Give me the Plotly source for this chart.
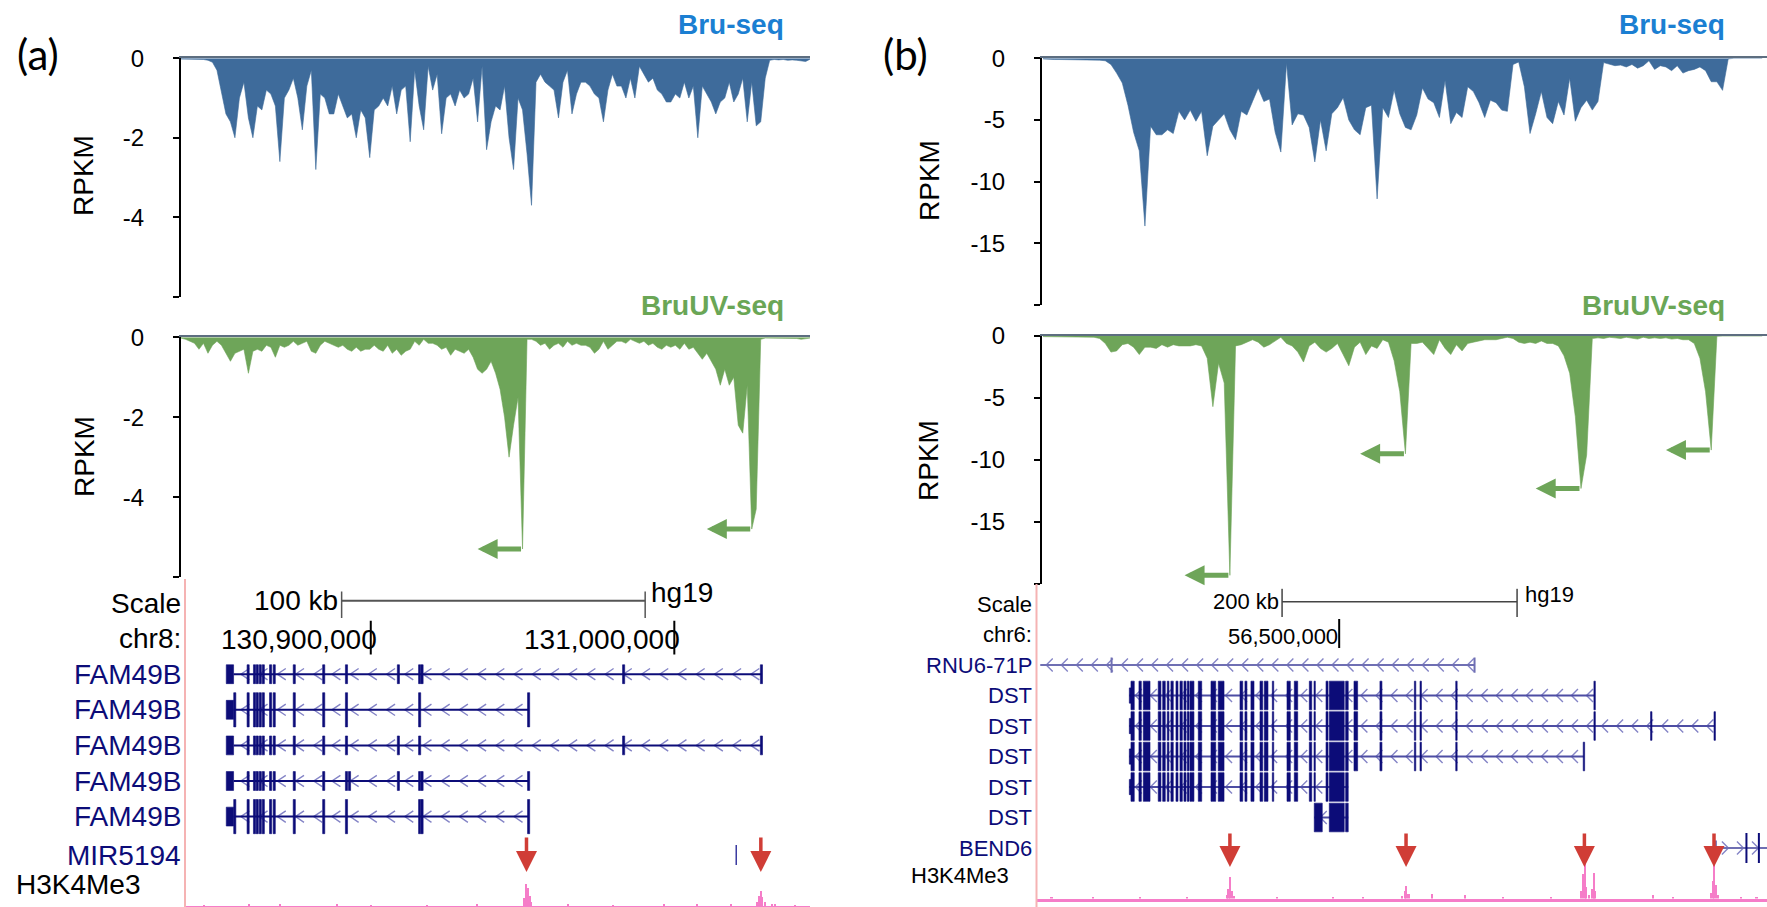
import numpy as np
import plotly.graph_objects as go

W, H = 1767, 907
FONT = "Liberation Sans, Arial, Helvetica, sans-serif"

# ---------------- signal tracks: RPKM (minus strand), evenly spaced bins ----------------
BIN_A = 1.5   # kb per bin, panel (a)
bru_a = [-0.02, -0.02, -0.02, -0.03, -0.02, -0.03, -0.05, -0.1, -0.3, -0.9,
         -1.4, -1.6, -2.0, -1.0, -0.6, -1.5, -2.0, -1.2, -1.3, -0.8,
         -0.9, -1.2, -2.6, -1.0, -0.8, -0.5, -1.0, -1.8, -0.7, -0.3,
         -2.8, -0.9, -1.0, -1.4, -1.4, -0.9, -1.2, -1.5, -1.4, -2.0,
         -1.3, -1.5, -2.5, -1.3, -1.2, -1.0, -1.2, -0.7, -1.4, -0.8,
         -0.7, -2.1, -0.3, -1.2, -1.8, -0.2, -0.8, -0.4, -1.9, -1.0,
         -0.9, -1.2, -0.8, -1.0, -0.9, -0.5, -1.6, -0.2, -2.3, -1.6,
         -1.2, -1.3, -0.7, -2.0, -2.8, -1.0, -1.3, -2.4, -3.7, -0.6,
         -0.4, -0.6, -0.7, -0.8, -1.5, -0.6, -0.3, -1.4, -0.9, -0.6,
         -0.6, -0.7, -0.9, -1.0, -1.6, -0.8, -0.4, -0.7, -0.7, -1.0,
         -0.5, -1.0, -0.2, -0.4, -0.6, -0.5, -0.8, -0.9, -1.1, -1.1,
         -0.9, -1.0, -0.6, -1.0, -0.7, -2.0, -0.7, -0.9, -1.1, -1.4,
         -1.1, -1.0, -0.6, -1.1, -0.9, -0.5, -1.6, -0.6, -1.7, -1.6,
         -0.5, -0.05, -0.03, -0.04, -0.03, -0.05, -0.04, -0.05, -0.06, -0.08, -0.02]
bruuv_a = [-0.02, -0.05, -0.1, -0.15, -0.3, -0.15, -0.4, -0.2, -0.1, -0.2,
           -0.4, -0.6, -0.4, -0.35, -0.3, -0.9, -0.35, -0.3, -0.35, -0.2,
           -0.25, -0.5, -0.2, -0.25, -0.2, -0.1, -0.2, -0.15, -0.1, -0.35,
           -0.4, -0.2, -0.1, -0.15, -0.2, -0.25, -0.2, -0.3, -0.35, -0.25,
           -0.35, -0.3, -0.3, -0.2, -0.3, -0.35, -0.2, -0.4, -0.3, -0.45,
           -0.35, -0.3, -0.1, -0.2, -0.05, -0.15, -0.15, -0.2, -0.3, -0.25,
           -0.45, -0.3, -0.35, -0.4, -0.3, -0.5, -0.8, -0.9, -0.8, -0.6,
           -0.9, -1.3, -2.0, -3.0, -2.2, -1.5, -5.3, -0.05, -0.05, -0.1,
           -0.2, -0.15, -0.3, -0.2, -0.15, -0.25, -0.1, -0.2, -0.15, -0.2,
           -0.2, -0.25, -0.4, -0.3, -0.1, -0.3, -0.2, -0.1, -0.1, -0.15,
           -0.05, -0.1, -0.15, -0.1, -0.2, -0.15, -0.25, -0.3, -0.2, -0.25,
           -0.2, -0.3, -0.15, -0.3, -0.25, -0.4, -0.55, -0.4, -0.6, -0.8,
           -1.2, -0.8, -1.2, -1.0, -2.2, -2.4, -1.2, -4.8, -4.3, -0.05,
           -0.02, -0.02, -0.02, -0.02, -0.02, -0.02, -0.02, -0.03, -0.05, -0.04, -0.02]

BIN_B = 5.0   # kb per bin, panel (b)
bru_b = [-0.05, -0.1, -0.1, -0.1, -0.1, -0.1, -0.12, -0.12, -0.12, -0.12,
         -0.15, -0.2, -0.5, -1.2, -2.0, -3.8, -6.0, -7.5, -13.6, -5.5,
         -6.2, -6.2, -5.8, -6.1, -4.3, -5.0, -4.2, -5.1, -4.3, -7.9,
         -5.5, -5.0, -4.5, -5.8, -6.6, -4.3, -4.6, -3.5, -2.4, -3.5,
         -3.3, -6.0, -7.6, -0.4, -5.4, -4.5, -4.6, -5.6, -8.4, -5.0,
         -7.5, -4.5, -4.0, -3.2, -5.0, -5.8, -6.2, -4.0, -3.8, -11.4,
         -4.0, -4.8, -2.6, -4.5, -5.6, -5.8, -4.6, -2.4, -3.3, -3.6,
         -4.8, -1.8, -5.3, -4.4, -4.8, -2.3, -2.7, -3.6, -4.8, -3.4,
         -3.6, -4.2, -4.3, -0.5, -0.3, -2.3, -6.1, -4.5, -2.7, -4.8,
         -5.3, -3.5, -4.6, -1.6, -5.1, -4.0, -3.4, -4.2, -3.5, -0.35,
         -0.5, -0.6, -0.55, -0.7, -0.5, -0.8, -0.6, -0.2, -0.9, -0.6,
         -0.7, -1.0, -0.6, -1.2, -1.0, -0.9, -0.7, -1.0, -1.9, -1.9,
         -2.6, -0.05, 0, 0, 0, 0, 0, 0]
bruuv_b = [-0.05, -0.05, -0.05, -0.05, -0.05, -0.05, -0.05, -0.05, -0.05, -0.1,
           -0.2, -0.6, -1.3, -1.2, -0.7, -0.6, -0.9, -1.5, -0.9, -0.9,
           -1.0, -0.7, -0.9, -0.7, -0.8, -0.8, -0.8, -0.7, -0.8, -1.8,
           -5.7, -2.2, -3.8, -19.3, -0.8, -0.7, -0.5, -0.3, -0.5, -0.9,
           -0.7, -0.4, -0.1, -0.6, -0.8, -1.3, -2.1, -0.8, -0.5, -1.0,
           -1.3, -1.0, -0.6, -1.5, -2.4, -0.9, -0.5, -1.5, -0.8, -1.0,
           -0.3, -0.5, -2.0, -4.5, -9.5, -0.6, -0.6, -0.5, -1.0, -1.5,
           -0.3, -1.0, -1.5, -0.7, -1.2, -0.6, -0.5, -0.4, -0.3, -0.3,
           -0.3, -0.2, -0.1, -0.2, -0.5, -0.6, -0.5, -0.6, -0.4, -0.6,
           -0.6, -0.8, -1.6, -3.0, -6.5, -12.3, -9.6, -0.2, -0.15, -0.2,
           -0.1, -0.15, -0.2, -0.1, -0.2, -0.25, -0.1, -0.2, -0.15, -0.2,
           -0.15, -0.25, -0.2, -0.3, -0.3, -0.6, -1.8, -4.5, -9.2, -0.02,
           0, 0, 0, 0, 0, 0, 0, 0]

yticks_a = [0, -2, -4, -6]
ytext_a = ["0", "-2", "-4", ""]
yticks_b = [0, -5, -10, -15, -20]
ytext_b = ["0", "-5", "-10", "-15", ""]

# ---------------- genome annotation, panel (a): chr8 (kb) ----------------
view_a = [130838.8, 131044.7]
scale_a = [130890.4, 100]                 # start kb, length kb
chr_ticks_a = [130900000, 131000000]
fam_block = [130852.4, 130854.8]
fam_core = [130859.6, 130861.7, 130862.6, 130863.6, 130864.6, 130867.0,
            130868.2, 130874.8, 130884.5, 130892.0]
fam_extra = [[130909.1, 130916.1, 130916.9, 130983.3, 131028.7],
             [130855.2, 130916.1, 130952.0],
             [130909.1, 130916.1, 130983.3, 131028.7],
             [130893.0, 130909.1, 130916.1, 130916.9, 130952.0],
             [130855.2, 130916.1, 130916.9, 130952.0]]
fam_tx_end = [131028.7, 130952.0, 131028.7, 130952.0, 130952.0]
fam_tall = [False, True, False, False, True]
mir5194 = 131020.4
labels_a = ["Scale", "chr8:", "FAM49B", "FAM49B", "FAM49B", "FAM49B", "FAM49B", "MIR5194"]
h3_pos_a = [130845.0, 130860.0, 130870.3, 130888.9, 130900.0, 130918.6, 130935.0,
            130950.7, 130951.3, 130951.8, 130952.4, 130953.0, 130965.0, 130980.0,
            130996.6, 131007.7, 131018.9, 131027.2, 131028.0, 131028.5, 131029.1,
            131030.0, 131032.2, 131033.4, 131040.0]
h3_val_a = [1.0, 1.2, 2.0, 1.5, 1.0, 1.0, 1.2,
            8, 22, 18, 10, 4, 1.5, 1.0,
            2.5, 1.5, 1.5, 4, 10, 15, 9,
            4, 2, 2, 1.0]

# ---------------- genome annotation, panel (b): chr6 (kb) ----------------
view_b = [56242.4, 56864.1]
scale_b = [56451.4, 200]
chr_ticks_b = [56500000]
rnu6_span = [56245.6, 56615.2]
rnu6_ticks = [56306.3, 56615.2]
dst_utr = [56321.4, 56322.8]
dst_core = [[56322.8, 56325.6], [56329.6, 56331.6], [56333.3, 56339.0], [56346.0, 56348.3],
            [56349.8, 56352.0], [56353.7, 56355.1], [56356.8, 56358.8], [56361.1, 56362.8],
            [56364.5, 56366.5], [56367.9, 56369.6], [56370.7, 56372.2], [56373.0, 56376.4],
            [56380.1, 56383.0], [56390.9, 56394.9], [56397.1, 56402.0], [56415.6, 56417.9],
            [56419.8, 56421.5], [56424.9, 56427.5], [56432.6, 56434.9], [56436.3, 56439.4],
            [56443.1, 56444.3], [56455.6, 56458.4], [56461.8, 56464.7], [56474.6, 56476.6],
            [56478.6, 56479.7], [56488.8, 56490.5], [56491.6, 56504.3], [56505.5, 56507.7]]
dst_mid = [[56512.6, 56515.7], [56534.7, 56536.4], [56564.0, 56565.2],
           [56568.8, 56570.0], [56599.2, 56600.4]]
dst_tail = [[[56716.8, 56718.0]],
            [[56716.8, 56718.0], [56765.0, 56766.2], [56819.0, 56820.2]],
            [[56707.7, 56708.9]]]
dst_tx = [[56321.4, 56717.4], [56321.4, 56819.6], [56321.4, 56708.3],
          [56321.4, 56507.7], [56478.8, 56507.7]]
dst5 = [[56478.8, 56485.6], [56491.6, 56504.3], [56505.5, 56507.7]]
bend6_span = [56820.6, 56864.1]
bend6_ticks = [56846.6, 56857.2]
labels_b = ["Scale", "chr6:", "RNU6-71P", "DST", "DST", "DST", "DST", "DST", "BEND6"]
h3_pos_b = [56255.0, 56290.0, 56330.0, 56370.0, 56404.1, 56405.6, 56407.0, 56408.5,
            56410.4, 56446.5, 56494.7, 56520.0, 56553.5, 56555.5, 56556.9, 56558.8,
            56579.0, 56606.5, 56639.3, 56680.0, 56705.8, 56707.2, 56708.7, 56710.1,
            56712.5, 56715.4, 56716.4, 56717.8, 56767.0, 56783.9, 56816.2, 56817.6,
            56819.0, 56820.5, 56822.4, 56841.7, 56855.0]
h3_val_b = [1.5, 1.2, 1.5, 1.2, 4, 10, 22, 8,
            3, 1.5, 1.5, 1.2, 3, 8, 13, 5,
            5, 4, 2, 1.5, 8, 25, 35, 12,
            4, 10, 26, 8, 4, 2, 6, 18,
            34, 14, 4, 2, 1.5]

# ---------------- colours ----------------
C_BRU = "#3e6b9b"
C_UV = "#6ea559"
C_BRU_T = "#1b7fd2"
C_UV_T = "#6aa656"
C_BASE = "#5d6e80"
NAVY = "#0c0c78"
LAV = "#8484c6"
LAV_LINE = "#6f6fb3"
PINK = "#f57dc8"
RED = "#d03d36"


def py(y):
    return 1 - y / H


def pxx(x):
    return x / W


fig = go.Figure()
shapes = []
ann = []


def add_signal(vals, bin_kb, xa, ya, color):
    x = np.arange(len(vals)) * bin_kb
    fig.add_trace(go.Scatter(x=x, y=vals, mode="lines", line=dict(color=color, width=0.6),
                             fill="tozeroy", fillcolor=color, xaxis=xa, yaxis=ya,
                             hoverinfo="skip"))
    return x


xa_b = add_signal(bru_a, BIN_A, "x", "y", C_BRU)
xa_uv = add_signal(bruuv_a, BIN_A, "x2", "y2", C_UV)
xb_b = add_signal(bru_b, BIN_B, "x3", "y3", C_BRU)
xb_uv = add_signal(bruuv_b, BIN_B, "x4", "y4", C_UV)


def local_minima(vals, thr, win):
    out = []
    for i, v in enumerate(vals):
        if v < thr and v == min(vals[max(0, i - win): i + win + 1]):
            out.append(i)
    return out


def local_maxima(pos, vals, thr, win):
    out = []
    for p, v in zip(pos, vals):
        if v > thr and all(v >= v2 for p2, v2 in zip(pos, vals) if abs(p2 - p) <= win):
            out.append(p)
    return out


# green arrows at BruUV-seq peaks
for vals, xs, xa, ya, back in [(bruuv_a, xa_uv, "x2", "y2", 10), (bruuv_b, xb_uv, "x4", "y4", 8)]:
    for i in local_minima(vals, -4, 5):
        ann.append(dict(x=xs[i] - back * (xs[1] - xs[0]), y=vals[i], xref=xa, yref=ya,
                        ax=xs[i], ay=vals[i], axref=xa, ayref=ya, text="", showarrow=True,
                        arrowhead=2, arrowsize=0.8, arrowwidth=5, arrowcolor=C_UV, standoff=0))

# ---- signal axes ----
sig_ax_common = dict(showgrid=False, zeroline=False, automargin=False, fixedrange=True)


def sig_axes(xa_key, ya_key, xdom, ydom, yrange, tv, tt, anchor_x, anchor_y, xr):
    fig.layout[xa_key] = dict(domain=[pxx(xdom[0]), pxx(xdom[1])], range=xr, side="top",
                              anchor=anchor_y, showline=True, linecolor=C_BASE, linewidth=2,
                              showticklabels=False, ticks="", **sig_ax_common)
    fig.layout[ya_key] = dict(domain=[py(ydom[1]), py(ydom[0])], range=yrange, anchor=anchor_x,
                              showline=True, linecolor="black", linewidth=2, ticks="outside",
                              ticklen=6, tickwidth=2, tickcolor="black", tickvals=tv, ticktext=tt,
                              tickfont=dict(family=FONT, size=24, color="black"),
                              ticklabelstandoff=24, **sig_ax_common)


PXB_A = 4.494
PXB_B = 5.663
xr_a = [0, (810 - 181) / PXB_A * BIN_A]
xr_b = [-(1.0 / PXB_B) * BIN_B, (1767 - 1043) / PXB_B * BIN_B]
sig_axes("xaxis", "yaxis", [181, 810], [58.3, 296.7], [-6, 0], yticks_a, ytext_a, "x", "y", xr_a)
sig_axes("xaxis2", "yaxis2", [181, 810], [337.3, 577.0], [-6, 0], yticks_a, ytext_a, "x2", "y2", xr_a)
sig_axes("xaxis3", "yaxis3", [1042, 1767], [58.3, 305.0], [-20, 0], yticks_b, ytext_b, "x3", "y3", xr_b)
sig_axes("xaxis4", "yaxis4", [1042, 1767], [336.0, 584.0], [-20, 0], yticks_b, ytext_b, "x4", "y4", xr_b)

# ---- annotation axes ----
hid = dict(visible=False, showgrid=False, zeroline=False, fixedrange=True, automargin=False)
pinkx = dict(showline=True, linecolor=PINK, linewidth=2.5, showticklabels=False, ticks="",
             showgrid=False, zeroline=False, fixedrange=True, automargin=False)
ROW_A0, ROW_A = 603.0, 35.6
ROW_B0, ROW_B = 604.0, 30.5
fig.layout["xaxis5"] = dict(domain=[pxx(185), pxx(810)], range=view_a, anchor="y5", **hid)
fig.layout["yaxis5"] = dict(domain=[py(ROW_A0 + 8.5 * ROW_A), py(ROW_A0 - 0.5 * ROW_A)],
                            range=[8.5, -0.5], anchor="x5", **hid)
fig.layout["xaxis6"] = dict(domain=[pxx(185), pxx(810)], range=view_a, anchor="y6", **pinkx)
fig.layout["yaxis6"] = dict(domain=[py(906), py(869)], range=[0, 37], anchor="x6", **hid)
fig.layout["xaxis7"] = dict(domain=[pxx(1036.5), 1.0], range=view_b, anchor="y7", **hid)
fig.layout["yaxis7"] = dict(domain=[py(ROW_B0 + 9.5 * ROW_B), py(ROW_B0 - 0.5 * ROW_B)],
                            range=[9.5, -0.5], anchor="x7", **hid)
fig.layout["xaxis8"] = dict(domain=[pxx(1036.5), 1.0], range=view_b, anchor="y8", **pinkx)
fig.layout["yaxis8"] = dict(domain=[py(898.5), py(862)], range=[0, 36.5], anchor="x8", **hid)

# H3K4Me3 signal
fig.add_trace(go.Bar(x=h3_pos_a, y=h3_val_a, width=0.5, marker=dict(color=PINK, line=dict(width=0)),
                     xaxis="x6", yaxis="y6", hoverinfo="skip"))
fig.add_trace(go.Bar(x=h3_pos_b, y=h3_val_b, width=1.4, marker=dict(color=PINK, line=dict(width=0)),
                     xaxis="x8", yaxis="y8", hoverinfo="skip"))

# red arrows at H3K4Me3 peaks
for pos, vals, xa, tip, length in [(h3_pos_a, h3_val_a, "x6", 872, 36), (h3_pos_b, h3_val_b, "x8", 867, 35)]:
    for p in local_maxima(pos, vals, 12, 10):
        ann.append(dict(x=p, y=py(tip), xref=xa, yref="paper", ax=0, ay=-length, text="",
                        showarrow=True, arrowhead=2, arrowsize=1.2, arrowwidth=3.5,
                        arrowcolor=RED, standoff=0))


def rect(xa, ya, x0, x1, yc, hh, color):
    shapes.append(dict(type="rect", xref=xa, yref=ya, x0=x0, x1=x1, y0=yc - hh, y1=yc + hh,
                       fillcolor=color, line=dict(color=color, width=0.6), layer="above"))


def seg(xa, ya, x0, x1, y0, y1, color, width):
    shapes.append(dict(type="line", xref=xa, yref=ya, x0=x0, x1=x1, y0=y0, y1=y1,
                       line=dict(color=color, width=width), layer="above"))


def chevrons(tx0, tx1, row, step, w, h, minus=True):
    xs, ys = [], []
    c = tx0 + step * 0.4
    while c + w < tx1:
        if minus:
            xs += [c + w, c, c + w, None]
        else:
            xs += [c, c + w, c, None]
        ys += [row - h, row, row + h, None]
        c += step
    return xs, ys


# ---------- panel (a) genes ----------
chx, chy = [], []
for k in range(5):
    row = 2 + k
    end = fam_tx_end[k]
    seg("x5", "y5", fam_block[1], end, row, row, NAVY, 2)
    xs, ys = chevrons(fam_block[1], end, row, 6.0, 2.8, 0.16)
    chx += xs
    chy += ys
for k in range(5):
    row = 2 + k
    rect("x5", "y5", fam_block[0], fam_block[1], row, 0.265, NAVY)
    for c in fam_core + fam_extra[k]:
        hh = 0.48 if fam_tall[k] else 0.265
        rect("x5", "y5", c - 0.35, c + 0.35, row, hh, NAVY)
seg("x5", "y5", mir5194, mir5194, 7.08 - 0.28, 7.08 + 0.28, "#3a3aa0", 1.5)
fig.add_trace(go.Scatter(x=chx, y=chy, mode="lines", line=dict(color=LAV, width=1.4),
                         xaxis="x5", yaxis="y5", hoverinfo="skip"))

# scale bar & chromosome ticks (a)
s0, sl = scale_a
seg("x5", "y5", s0, s0 + sl, -0.06, -0.06, "#555555", 2)
seg("x5", "y5", s0, s0, -0.32, 0.42, "#555555", 1.5)
seg("x5", "y5", s0 + sl, s0 + sl, -0.32, 0.42, "#555555", 1.5)
ann.append(dict(x=s0, y=-0.06, xref="x5", yref="y5", text="100 kb", showarrow=False,
                xanchor="right", yanchor="middle", xshift=-2,
                font=dict(family=FONT, size=28, color="black")))
ann.append(dict(x=s0 + sl, y=-0.3, xref="x5", yref="y5", text="hg19", showarrow=False,
                xanchor="left", yanchor="middle", xshift=4,
                font=dict(family=FONT, size=28, color="black")))
for t in chr_ticks_a:
    seg("x5", "y5", t / 1000, t / 1000, 1 - 0.5, 1 + 0.45, "black", 2)
    ann.append(dict(x=t / 1000, y=1.02, xref="x5", yref="y5", text=f"{t:,}", showarrow=False,
                    xanchor="right", yanchor="middle", xshift=8,
                    font=dict(family=FONT, size=28, color="black")))
for k, lab in enumerate(labels_a):
    col = "black" if k < 2 else NAVY
    yy = 7.08 if lab == "MIR5194" else k
    ann.append(dict(x=pxx(183), y=yy, xref="paper", yref="y5", text=lab, showarrow=False,
                    xanchor="right", yanchor="middle", font=dict(family=FONT, size=28, color=col)))
ann.append(dict(x=pxx(14), y=py(884), xref="paper", yref="paper", text="H3K4Me3", showarrow=False,
                xanchor="left", yanchor="middle", font=dict(family=FONT, size=28, color="black")))

# ---------- panel (b) genes ----------
chx, chy = [], []
seg("x7", "y7", rnu6_span[0], rnu6_span[1], 2, 2, LAV_LINE, 2)
xs, ys = chevrons(rnu6_span[0], rnu6_span[1], 2, 12.8, 5.5, 0.21)
chx += xs
chy += ys
for t in rnu6_ticks:
    seg("x7", "y7", t, t, 2 - 0.25, 2 + 0.25, LAV_LINE, 2)
for k in range(5):
    row = 3 + k
    t0, t1 = dst_tx[k]
    seg("x7", "y7", t0, t1, row, row, "#4d4da3", 2)
    xs, ys = chevrons(t0, t1, row, 12.8, 5.5, 0.21)
    chx += xs
    chy += ys
seg("x7", "y7", bend6_span[0], bend6_span[1], 8, 8, LAV_LINE, 2)
xs, ys = chevrons(bend6_span[0], bend6_span[1], 8, 12.8, 5.5, 0.21, minus=False)
chx += xs
chy += ys
seg("x7", "y7", bend6_span[0], bend6_span[0], 8 - 0.25, 8 + 0.25, LAV_LINE, 2)
fig.add_trace(go.Scatter(x=chx, y=chy, mode="lines", line=dict(color=LAV, width=1.4),
                         xaxis="x7", yaxis="y7", hoverinfo="skip"))
for t in bend6_ticks:
    seg("x7", "y7", t, t, 8 - 0.49, 8 + 0.49, NAVY, 2)
for k in range(5):
    row = 3 + k
    if k < 4:
        rect("x7", "y7", dst_utr[0], dst_utr[1], row, 0.25, NAVY)
        ex = dst_core + (dst_mid + dst_tail[k] if k < 3 else [])
    else:
        ex = dst5
    for a, b in ex:
        rect("x7", "y7", a, b, row, 0.47, NAVY)

s0, sl = scale_b
seg("x7", "y7", s0, s0 + sl, -0.07, -0.07, "#444444", 1.5)
seg("x7", "y7", s0, s0, -0.52, 0.43, "#444444", 1.5)
seg("x7", "y7", s0 + sl, s0 + sl, -0.52, 0.43, "#444444", 1.5)
ann.append(dict(x=s0, y=-0.07, xref="x7", yref="y7", text="200 kb", showarrow=False,
                xanchor="right", yanchor="middle", xshift=-1,
                font=dict(family=FONT, size=22, color="black")))
ann.append(dict(x=s0 + sl, y=-0.3, xref="x7", yref="y7", text="hg19", showarrow=False,
                xanchor="left", yanchor="middle", xshift=6,
                font=dict(family=FONT, size=22, color="black")))
for t in chr_ticks_b:
    seg("x7", "y7", t / 1000, t / 1000, 1 - 0.51, 1 + 0.44, "black", 2)
    ann.append(dict(x=t / 1000, y=1.05, xref="x7", yref="y7", text=f"{t:,}", showarrow=False,
                    xanchor="right", yanchor="middle", xshift=1,
                    font=dict(family=FONT, size=22, color="black")))
for k, lab in enumerate(labels_b):
    col = "black" if k < 2 else NAVY
    ann.append(dict(x=pxx(1034), y=k, xref="paper", yref="y7", text=lab, showarrow=False,
                    xanchor="right", yanchor="middle", font=dict(family=FONT, size=22, color=col)))
ann.append(dict(x=pxx(909), y=py(875), xref="paper", yref="paper", text="H3K4Me3", showarrow=False,
                xanchor="left", yanchor="middle", font=dict(family=FONT, size=22, color="black")))

# pink separator lines of the browser panels
for xp, ytop in [(185, 579), (1036.5, 584)]:
    shapes.append(dict(type="line", xref="paper", yref="paper", x0=pxx(xp), x1=pxx(xp),
                       y0=py(ytop), y1=0, line=dict(color="#f5b3b3", width=2)))

# ---------- titles & labels ----------
for xc, txt in [(38, "(a)"), (906, "(b)")]:
    ann.append(dict(x=pxx(xc), y=py(54), xref="paper", yref="paper", text=txt, showarrow=False,
                    xanchor="center", yanchor="middle",
                    font=dict(family="Lato, Open Sans, sans-serif", size=42, color="black")))
for xr_ in [786, 1727]:
    ann.append(dict(x=pxx(xr_), y=py(25), xref="paper", yref="paper", text="<b>Bru-seq</b>",
                    showarrow=False, xanchor="right", yanchor="middle",
                    font=dict(family=FONT, size=28, color=C_BRU_T)))
    ann.append(dict(x=pxx(xr_), y=py(305), xref="paper", yref="paper", text="<b>BruUV-seq</b>",
                    showarrow=False, xanchor="right", yanchor="middle",
                    font=dict(family=FONT, size=28, color=C_UV_T)))
for xc, yc in [(84, 176), (84, 457), (929, 180), (929, 460)]:
    ann.append(dict(x=pxx(xc), y=py(yc), xref="paper", yref="paper", text="RPKM", showarrow=False,
                    textangle=-90, xanchor="center", yanchor="middle",
                    font=dict(family=FONT, size=28, color="black")))

fig.update_layout(width=W, height=H,
                  margin=dict(l=0, r=0, t=0, b=0, pad=0, autoexpand=False),
                  paper_bgcolor="white", plot_bgcolor="white", showlegend=False,
                  shapes=shapes, annotations=ann, bargap=0)
fig.write_html("out.html")
